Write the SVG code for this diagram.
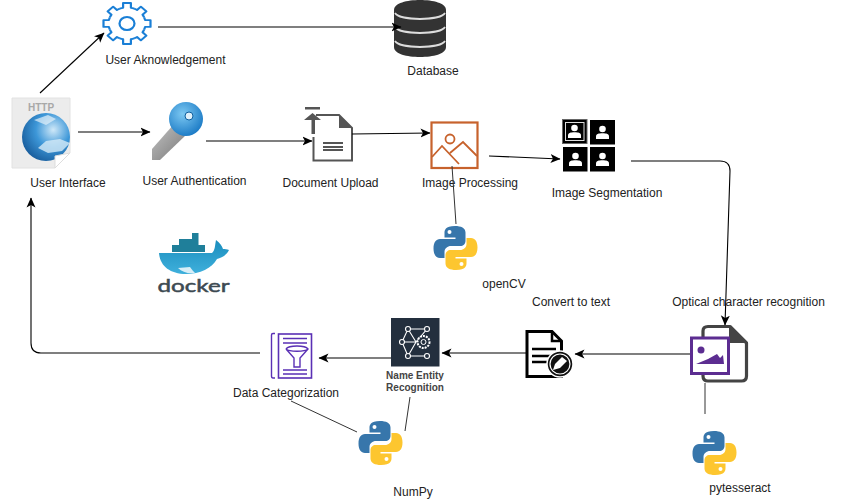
<svg xmlns="http://www.w3.org/2000/svg" xmlns:xlink="http://www.w3.org/1999/xlink" width="841" height="503" viewBox="0 0 841 503">
<style>
text{font-family:"Liberation Sans",Arial,sans-serif;font-size:12px;fill:#222;text-anchor:middle}
.c{fill:none;stroke:#000;stroke-width:1.1}
.p{fill:none;stroke:#333;stroke-width:1}
.gear{fill:none;stroke:#1a7fd6;stroke-width:2.200;stroke-linejoin:round}
</style>
<defs>
<marker id="a" markerUnits="userSpaceOnUse" markerWidth="11" markerHeight="10" refX="9.500" refY="5" orient="auto"><path d="M0 .5L10 5L0 9.500L2.500 5z" fill="#000"/></marker>
<radialGradient id="globe" cx=".65" cy=".35" r=".8"><stop offset="0" stop-color="#cfe8f8"/><stop offset=".45" stop-color="#3d97d8"/><stop offset="1" stop-color="#10508f"/></radialGradient>
<radialGradient id="keyg" cx=".4" cy=".35" r=".7"><stop offset="0" stop-color="#7cc8f2"/><stop offset="1" stop-color="#1878c4"/></radialGradient>
<linearGradient id="shaft" x1="0" y1="0" x2="1" y2="1"><stop offset="0" stop-color="#c4c4c4"/><stop offset="1" stop-color="#777"/></linearGradient>
<linearGradient id="whale" x1="0" y1="0" x2="0" y2="1"><stop offset="0" stop-color="#1a8dbd"/><stop offset="1" stop-color="#3fb0dc"/></linearGradient>
<clipPath id="pg"><path d="M12 98H70V153L55 168H12z"/></clipPath>
<g id="py">
<path fill="#3776ab" d="M21.500 0C11.500 0 11 4.500 11 7v4.500h11V13H6.500C2.500 13 0 16.500 0 22.500S2.500 32 6.500 32H11v-6c0-3.500 3-6 6.500-6h9.500c2.500 0 5-2 5-5V6.500C32 2 27.500 0 21.500 0z"/>
<circle cx="16" cy="6" r="2" fill="#fff"/>
<path fill="#fdc62f" d="M22.500 44C32.500 44 33 39.500 33 37v-4.500H22V31h15.500C41.500 31 44 27.500 44 21.500S41.500 12 37.500 12H33v6c0 3.500-3 6-6.500 6H17c-2.500 0-5 2-5 5v8.500C12 42 16.500 44 22.500 44z"/>
<circle cx="28" cy="38" r="2" fill="#fff"/>
</g>
<path id="t" d="M17.100 -7.100A18.500 18.500 0 0 1 18.100 -3.900L23.500 -3.900V3.900L18.100 3.900A18.500 18.500 0 0 1 17.100 7.100"/>
<g id="person"><circle cx="0" cy="-4" r="3.300" fill="#fff"/><path d="M-6.500 6V3.500C-6.500 1 -4 .3 0 .3S6.500 1 6.500 3.500V6z" fill="#fff"/></g>
</defs>

<g id="user-ack">
<g class="gear" transform="translate(127 23.500) scale(1 .87)">
<use xlink:href="#t"/><use xlink:href="#t" transform="rotate(45)"/><use xlink:href="#t" transform="rotate(90)"/><use xlink:href="#t" transform="rotate(135)"/><use xlink:href="#t" transform="rotate(180)"/><use xlink:href="#t" transform="rotate(225)"/><use xlink:href="#t" transform="rotate(270)"/><use xlink:href="#t" transform="rotate(315)"/>
</g>
<ellipse class="gear" cx="127" cy="23.500" rx="7.500" ry="6.500"/>
<text x="165.500" y="64">User Aknowledgement</text>
</g>

<g id="database">
<path fill="#333" d="M394 10C394 3 407 0 420 0S446 3 446 10V47C446 54 433 57 420 57S394 54 394 47z"/>
<path fill="none" stroke="#ddd" stroke-width="1.800" d="M395 13C400 21 440 21 445 13M395 27C400 35 440 35 445 27M395 41C400 49 440 49 445 41"/>
<text x="433" y="75">Database</text>
</g>

<g id="user-interface">
<path fill="#ececec" stroke="#e2e2e2" d="M12 98H70V153L55 168H12z"/>
<text x="41" y="111" style="font-size:10px;font-weight:bold;fill:#a8a8a8">HTTP</text>
<g clip-path="url(#pg)">
<circle cx="46" cy="137" r="24" fill="url(#globe)"/>
<path fill="#d6ebf7" opacity=".8" d="M38 148L46 141L60 139L70 143L62 151L48 153z"/>
<path fill="#e4f1fa" opacity=".7" d="M34 120L48 115L56 119L46 125z"/>
</g>
<path fill="#fff" stroke="#ddd" d="M70 153L55 168V156z"/>
<text x="68" y="187">User Interface</text>
</g>

<g id="user-auth">
<path fill="url(#shaft)" d="M174 124L186 135L160 160H152V149z"/>
<circle cx="186" cy="119" r="17" fill="url(#keyg)"/>
<circle cx="189" cy="116" r="4" fill="#dff0fa" stroke="#0e5f9f"/>
<text x="194.500" y="185">User Authentication</text>
</g>

<g id="doc-upload">
<path fill="none" stroke="#555" stroke-width="2" d="M316 115H339L352 128V160.500H313.500V137"/>
<path fill="#555" d="M339 115L352 128H339z"/>
<path fill="none" stroke="#555" stroke-width="2" d="M323 143H343M323 147H343M323 150H343"/>
<path fill="#555" d="M305 107H320V109.500H305zM311.500 120H304L312.500 113L321 120H315V134H311.500z"/>
<text x="330.500" y="187">Document Upload</text>
</g>

<g id="image-processing">
<rect x="431.500" y="122.500" width="46" height="45.500" fill="#fff" stroke="#c7622c" stroke-width="2.200"/>
<circle cx="450" cy="139" r="4.500" fill="none" stroke="#c7622c" stroke-width="1.800"/>
<path fill="none" stroke="#c7622c" stroke-width="1.800" d="M432 157L442 146L459 164M450 153L463 142L477 156"/>
<text x="470" y="187">Image Processing</text>
</g>

<g id="image-segmentation">
<rect x="562.500" y="119.500" width="24.500" height="24" fill="#000" stroke="#666"/>
<rect x="565.500" y="122.500" width="18.500" height="18" fill="none" stroke="#ddd"/>
<rect x="590" y="120" width="25" height="24.500" fill="#000"/>
<rect x="563" y="147" width="24.500" height="24.500" fill="#000"/>
<rect x="590" y="147" width="25" height="24.500" fill="#000"/>
<use xlink:href="#person" x="574.500" y="132"/><use xlink:href="#person" x="602.500" y="133"/><use xlink:href="#person" x="575.500" y="160"/><use xlink:href="#person" x="602.500" y="160"/>
<text x="607" y="197">Image Segmentation</text>
</g>

<g id="opencv"><use xlink:href="#py" x="433.500" y="226"/><text x="504" y="288">openCV</text></g>

<g id="docker">
<rect x="192" y="233" width="6.500" height="6" fill="#1f7f9a"/>
<rect x="179" y="239" width="19.500" height="6" fill="#1f7f9a"/>
<rect x="172" y="245" width="33" height="7" fill="#1f7f9a"/>
<path fill="url(#whale)" d="M159 253H212C215 251 215 245 216 240C220 243 222 246 223 249C225 249 227 249 229 250C226 256 221 258 217 259C212 268 200 274 186 274C170 274 160 266 159 253z"/>
<path fill="#d8eef7" d="M178 268L190 267C192 270 194 272 195 273C188 274 182 272 178 268z"/>
<text x="193.500" y="291.500" textLength="72" lengthAdjust="spacingAndGlyphs" style="font-family:Lato,sans-serif;font-size:18px;fill:#3d4a52;stroke:#3d4a52;stroke-width:.5">docker</text>
</g>

<g id="ocr">
<path fill="#fff" stroke="#444" stroke-width="3.200" stroke-linejoin="round" d="M703 331Q703 326.500 708 326.500H730L746.500 343V376Q746.500 381 741.500 381H708Q703 381 703 376z"/>
<path fill="#444" d="M729 325L747 343H729z"/>
<rect x="691.500" y="338" width="37" height="35.500" fill="#fff" stroke="#5c2d91" stroke-width="3"/>
<circle cx="701" cy="350" r="3.500" fill="#5c2d91"/>
<path fill="#5c2d91" d="M696 364L708 359L717 354L720 358L723 355L724 364z"/>
<text x="748.500" y="306">Optical character recognition</text>
</g>

<g id="convert-text">
<path fill="#fff" stroke="#000" stroke-width="3" d="M527 331.500H552L561.500 341V376.500H527z"/>
<path fill="none" stroke="#000" stroke-width="2.500" d="M552 331.500V341H561.500M532 349H556M532 356H556M532 362H549"/>
<circle cx="560" cy="364" r="13" fill="#111" stroke="#fff" stroke-width="1.500"/>
<circle cx="560" cy="364" r="10" fill="#111" stroke="#fff" stroke-width="1.200"/>
<path fill="#fff" d="M553 370L555 364L562 357L567 361L560 368z"/>
<text x="571" y="306">Convert to text</text>
</g>

<g id="ner">
<rect x="391" y="318" width="48.500" height="48.500" fill="#232f3e"/>
<path fill="none" stroke="#fff" stroke-width="1.100" d="M402 342L408 329L427 329L416 342L408 356L427 356M402 342L408 356M402 342H416M408 329L416 342"/>
<g fill="#232f3e" stroke="#fff" stroke-width="1.100"><circle cx="408" cy="329" r="2.500"/><circle cx="427" cy="329" r="2.500"/><circle cx="402" cy="342" r="2.500"/><circle cx="408" cy="356" r="2.500"/><circle cx="427" cy="356" r="2.500"/></g>
<circle cx="423.500" cy="342" r="6" fill="#232f3e" stroke="#fff" stroke-width="2" stroke-dasharray="2 1"/>
<circle cx="423.500" cy="342" r="2.500" fill="none" stroke="#fff"/>
<text x="415" y="379" style="font-size:10px;font-weight:bold;fill:#444">Name Entity</text>
<text x="415" y="391" style="font-size:10px;font-weight:bold;fill:#444">Recognition</text>
</g>

<g id="data-categorization">
<rect x="278.500" y="334" width="33" height="44" fill="none" stroke="#5a30b5" stroke-width="1.600"/>
<path fill="none" stroke="#5a30b5" stroke-width="1.400" d="M275 333.500H273Q271.500 333.500 271.500 335V376Q271.500 378 273 378H275M283 338.500H307M283 343H307M283 370H307M283 374H307"/>
<path fill="none" stroke="#5a30b5" stroke-width="1.400" d="M286 349C289 345 305 345 308 349C305 352 289 352 286 349L294 358V367H300V358L308 349"/>
<text x="286" y="397">Data Categorization</text>
</g>

<g id="numpy"><use xlink:href="#py" x="358.500" y="421"/><text x="413" y="496">NumPy</text></g>
<g id="pytesseract"><use xlink:href="#py" x="692.500" y="431"/><text x="740" y="492">pytesseract</text></g>

<g id="connectors">
<path class="c" marker-end="url(#a)" d="M40 93L104 33"/>
<path class="c" marker-end="url(#a)" d="M158 27L401 27"/>
<path class="c" marker-end="url(#a)" d="M78 132L150 132"/>
<path class="c" marker-end="url(#a)" d="M206 141L312 141"/>
<path class="c" marker-end="url(#a)" d="M352 134L430 133"/>
<path class="c" marker-end="url(#a)" d="M489 156L560 159"/>
<path class="c" marker-end="url(#a)" d="M631 161L720 161Q730 161 730 171L725 325"/>
<path class="c" marker-end="url(#a)" d="M690 354L575 354"/>
<path class="c" marker-end="url(#a)" d="M526 353L442 353"/>
<path class="c" marker-end="url(#a)" d="M391 358L319 358"/>
<path class="c" marker-end="url(#a)" d="M260 353L41 353Q31 353 31 343L31 198"/>
<path class="p" d="M452 166L456 224"/>
<path class="p" d="M705 383L705 414"/>
<path class="p" d="M291 401L357 432"/>
<path class="p" d="M410 397L405 431"/>
</g>
</svg>
